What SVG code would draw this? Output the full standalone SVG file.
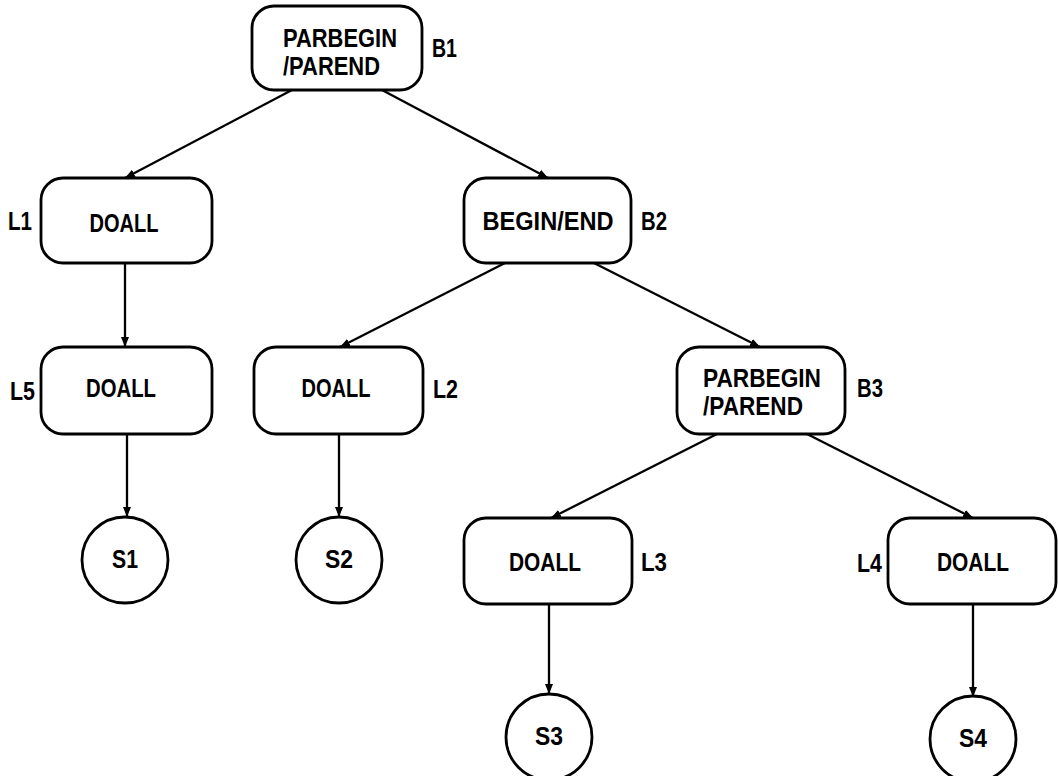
<svg xmlns="http://www.w3.org/2000/svg" width="1058" height="776" viewBox="0 0 1058 776">
<style>
.box{fill:#fff;stroke:#000;stroke-width:2.8}
.t{font-family:"Liberation Sans",Arial,sans-serif;font-weight:bold;font-size:25px;fill:#000}
.c{text-anchor:middle}
.e{stroke:#000;stroke-width:2.3;fill:none;marker-end:url(#ah)}
</style>
<defs>
<marker id="ah" viewBox="0 0 10 10" refX="10" refY="5" markerWidth="10" markerHeight="10" markerUnits="userSpaceOnUse" orient="auto">
<path d="M0,1 L10,5 L0,9 z" fill="#000"/>
</marker>
</defs>
<rect width="1058" height="776" fill="#fff"/>
<g id="connectors">
<line class="e" x1="292" y1="90" x2="125" y2="178"/>
<line class="e" x1="382" y1="90" x2="548" y2="178"/>
<line class="e" x1="125" y1="263" x2="125" y2="347"/>
<line class="e" x1="505" y1="263" x2="340" y2="347"/>
<line class="e" x1="594" y1="263" x2="760" y2="347"/>
<line class="e" x1="127" y1="434" x2="127" y2="517"/>
<line class="e" x1="339" y1="434" x2="339" y2="517"/>
<line class="e" x1="717" y1="434" x2="551" y2="518"/>
<line class="e" x1="807" y1="434" x2="973" y2="518"/>
<line class="e" x1="549" y1="604" x2="549" y2="694"/>
<line class="e" x1="973" y1="604" x2="973" y2="697"/>
</g>
<g id="B1">
<rect class="box" x="252" y="6" width="170" height="84" rx="22"/>
<text class="t" x="283" y="47" textLength="114" lengthAdjust="spacingAndGlyphs">PARBEGIN</text>
<text class="t" x="283" y="75" textLength="97" lengthAdjust="spacingAndGlyphs">/PAREND</text>
<text class="t" x="432" y="57" textLength="25" lengthAdjust="spacingAndGlyphs">B1</text>
</g>
<g id="L1">
<rect class="box" x="41" y="178" width="171" height="85" rx="22"/>
<text class="t c" x="124" y="232" textLength="69" lengthAdjust="spacingAndGlyphs">DOALL</text>
<text class="t" x="8" y="230" textLength="24" lengthAdjust="spacingAndGlyphs">L1</text>
</g>
<g id="B2">
<rect class="box" x="464" y="178" width="167" height="85" rx="22"/>
<text class="t c" x="548" y="230" textLength="131" lengthAdjust="spacingAndGlyphs">BEGIN/END</text>
<text class="t" x="641" y="230" textLength="26" lengthAdjust="spacingAndGlyphs">B2</text>
</g>
<g id="L5">
<rect class="box" x="41" y="347" width="171" height="87" rx="22"/>
<text class="t c" x="121" y="397" textLength="70" lengthAdjust="spacingAndGlyphs">DOALL</text>
<text class="t" x="10" y="400" textLength="25" lengthAdjust="spacingAndGlyphs">L5</text>
</g>
<g id="L2">
<rect class="box" x="254" y="347" width="169" height="87" rx="22"/>
<text class="t c" x="336" y="397" textLength="69" lengthAdjust="spacingAndGlyphs">DOALL</text>
<text class="t" x="433" y="398" textLength="25" lengthAdjust="spacingAndGlyphs">L2</text>
</g>
<g id="B3">
<rect class="box" x="677" y="347" width="168" height="87" rx="22"/>
<text class="t" x="703" y="387" textLength="118" lengthAdjust="spacingAndGlyphs">PARBEGIN</text>
<text class="t" x="703" y="415" textLength="100" lengthAdjust="spacingAndGlyphs">/PAREND</text>
<text class="t" x="857" y="397" textLength="26" lengthAdjust="spacingAndGlyphs">B3</text>
</g>
<g id="L3">
<rect class="box" x="464" y="518" width="168" height="86" rx="22"/>
<text class="t c" x="545" y="571" textLength="72" lengthAdjust="spacingAndGlyphs">DOALL</text>
<text class="t" x="641" y="571" textLength="26" lengthAdjust="spacingAndGlyphs">L3</text>
</g>
<g id="L4">
<rect class="box" x="888" y="518" width="168" height="86" rx="22"/>
<text class="t c" x="973" y="571" textLength="72" lengthAdjust="spacingAndGlyphs">DOALL</text>
<text class="t" x="857" y="572" textLength="25" lengthAdjust="spacingAndGlyphs">L4</text>
</g>
<g id="S1">
<circle class="box" cx="125" cy="560" r="43"/>
<text class="t c" x="125" y="568" textLength="26" lengthAdjust="spacingAndGlyphs">S1</text>
</g>
<g id="S2">
<circle class="box" cx="339" cy="560" r="43"/>
<text class="t c" x="339" y="568" textLength="28" lengthAdjust="spacingAndGlyphs">S2</text>
</g>
<g id="S3">
<circle class="box" cx="549" cy="737" r="43"/>
<text class="t c" x="549" y="745" textLength="28" lengthAdjust="spacingAndGlyphs">S3</text>
</g>
<g id="S4">
<circle class="box" cx="973" cy="739" r="43"/>
<text class="t c" x="973" y="747" textLength="28" lengthAdjust="spacingAndGlyphs">S4</text>
</g>
</svg>
